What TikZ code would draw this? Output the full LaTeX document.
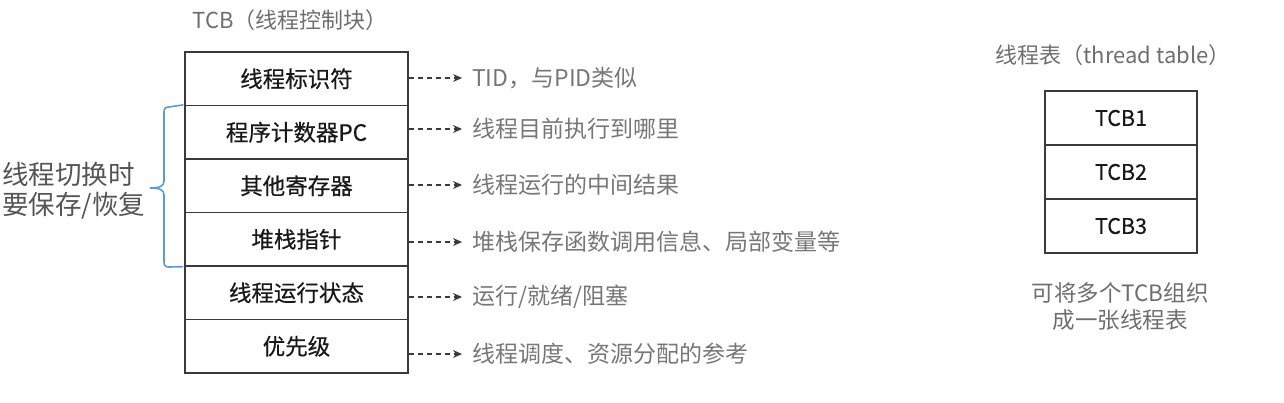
\documentclass[tikz,border=0pt]{standalone}
\usepackage{fontspec}
\setmainfont{Noto Sans CJK SC}
\newfontfamily\medfont[FakeBold=0.5]{Noto Sans CJK SC}
\usetikzlibrary{arrows.meta}
\definecolor{boxline}{HTML}{3A3A3A}
\definecolor{titlegray}{HTML}{6E6E6E}
\definecolor{notegray}{HTML}{777777}
\definecolor{leftgray}{HTML}{555555}
\definecolor{braceblue}{HTML}{5B9BD5}
\begin{document}
\begin{tikzpicture}[x=1pt,y=-1pt,
  cell/.style={draw=boxline, line width=1.3pt, minimum width=223pt, minimum height=53.5pt, inner sep=0pt, font=\medfont\fontsize{22.5}{26}\selectfont, text=black!90},
  tcell/.style={draw=boxline, line width=1.3pt, minimum width=152pt, minimum height=54pt, inner sep=0pt, font=\medfont\fontsize{21.5}{24}\selectfont, text=black!90},
  note/.style={anchor=west, inner sep=0pt, font=\fontsize{23}{26}\selectfont, text=notegray},
  title/.style={inner sep=0pt, font=\fontsize{22}{26}\selectfont, text=titlegray},
  dasharrow/.style={draw=boxline, line width=1.2pt, dash pattern=on 5pt off 4pt, -{Stealth[length=9pt,width=8pt]}, shorten >=10pt},
  bracestyle/.style={draw=braceblue, line width=1.6pt}
]
\useasboundingbox (0,0) rectangle (1284,402);

% TCB title
\node[title] (tcbtitle) at (290,20) {TCB（线程控制块）};

% TCB cells
\node[cell] (r1) at (296.5,78.75) {线程标识符};
\node[cell] (r2) at (296.5,132.25) {程序计数器PC};
\node[cell] (r3) at (296.5,185.75) {其他寄存器};
\node[cell] (r4) at (296.5,239.25) {堆栈指针};
\node[cell] (r5) at (296.5,292.75) {线程运行状态};
\node[cell] (r6) at (296.5,346.25) {优先级};

% annotations
\node[note] (t1) at (472,78) {TID，与PID类似};
\node[note] (t2) at (472,129) {线程目前执行到哪里};
\node[note] (t3) at (472,185) {线程运行的中间结果};
\node[note] (t4) at (472,242) {堆栈保存函数调用信息、局部变量等};
\node[note] (t5) at (472,297) {运行/就绪/阻塞};
\node[note] (t6) at (472,354) {线程调度、资源分配的参考};

\foreach \i in {1,...,6}{
  \draw[dasharrow] (t\i.west -| r\i.east) -- (t\i.west);
}

% brace
\coordinate (btop) at (r2.north west);
\coordinate (bbot) at (r4.south west);
\coordinate (btip) at (150,188);
\draw[bracestyle] ([xshift=-1pt]btop) -- (169,107) .. controls (165.5,107) and (164,108.5) .. (164,112) -- (164,181) .. controls (164,186) and (160,188) .. (btip)
  .. controls (160,188) and (164,190) .. (164,195) -- (164,262) .. controls (164,265.5) and (165.5,267) .. (169,267) -- ([xshift=-1pt]bbot);

% left label
\node[anchor=west, inner sep=0pt, align=left, font=\fontsize{26.5}{30}\selectfont, text=leftgray] (leftlabel) at (2,191) {线程切换时\\要保存/恢复};

% thread table
\node[title] (tttitle) at (1113,55) {线程表（thread table）};
\node[tcell] (c1) at (1121,118) {TCB1};
\node[tcell] (c2) at (1121,172) {TCB2};
\node[tcell] (c3) at (1121,226) {TCB3};
\node[inner sep=0pt, align=center, font=\fontsize{22.5}{27}\selectfont, text=titlegray] (tnote) at (1120,306) {可将多个TCB组织\\成一张线程表};
\end{tikzpicture}
\end{document}
